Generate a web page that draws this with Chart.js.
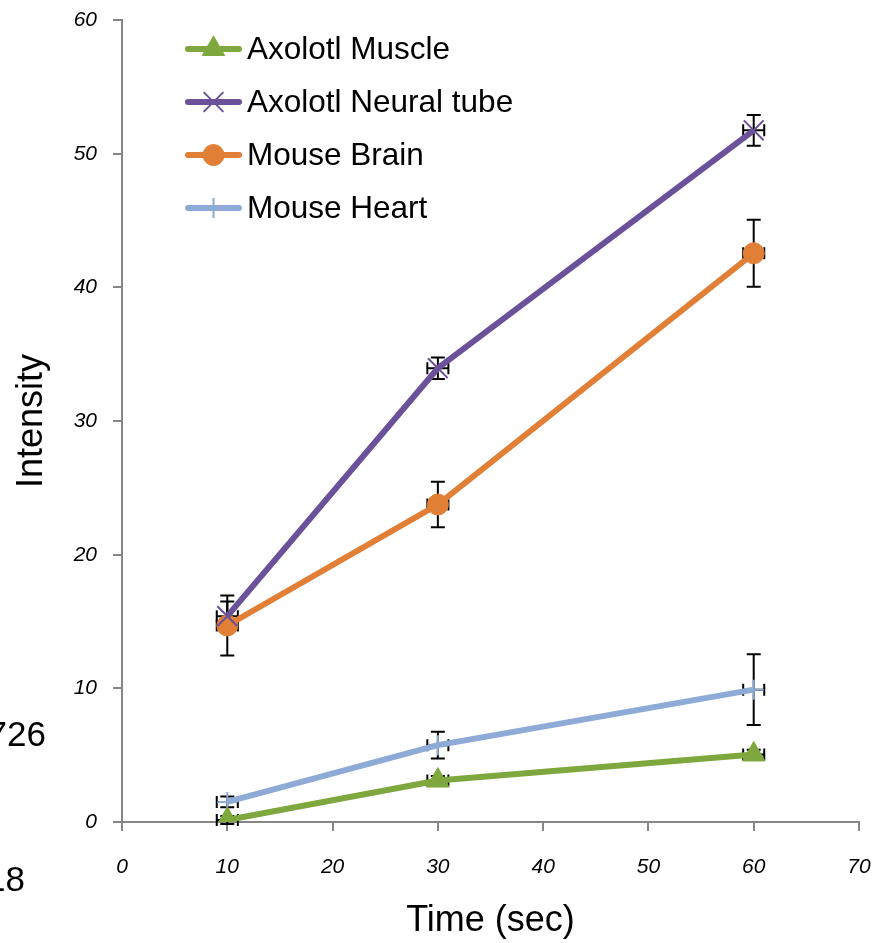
<!DOCTYPE html>
<html>
<head>
<meta charset="utf-8">
<script src="https://cdn.jsdelivr.net/npm/chart.js@4"></script>
<style>
  body { margin: 0; background: #fff; }
  #wrap { position: relative; width: 877px; height: 943px; overflow: hidden; }
  .stray { position: absolute; font-family: "Liberation Sans", Arial, sans-serif; font-size: 35px; color: #000; text-align: right; line-height: 40px; }
</style>
</head>
<body>
<div id="wrap">
  <canvas id="myChart" width="877" height="943"></canvas>
  <div class="stray" style="right: 831px; top: 714px;">726</div>
  <div class="stray" style="right: 852px; top: 859px;">18</div>
</div>
<script>
var times = [10, 30, 60];
var seriesNames = ['Axolotl Muscle', 'Axolotl Neural tube', 'Mouse Brain', 'Mouse Heart'];
var muscle = [0.15, 3.1, 5.05];
var muscleErr = [0.3, 0.35, 0.35];
var neural = [15.4, 33.95, 51.75];
var neuralErr = [1.1, 0.8, 1.15];
var brain = [14.7, 23.75, 42.55];
var brainErr = [2.25, 1.7, 2.5];
var heart = [1.5, 5.75, 9.9];
var heartErr = [0.4, 1.0, 2.65];
var timeErr = [1, 1, 1];
var xTicks = [0, 10, 20, 30, 40, 50, 60, 70];
var yTicks = [0, 10, 20, 30, 40, 50, 60];

var colors = ['#7ea83d', '#6b5199', '#e07f35', '#8eaad6'];
var pointStyles = ['triangle', 'crossRot', 'circle', 'cross'];
var pointSizes = [13, 14, 10.5, 10];
var allValues = [muscle, neural, brain, heart];
var allErrs = [muscleErr, neuralErr, brainErr, heartErr];

function points(vals) {
    var out = [];
    for (let i = 0; i < times.length; i++) {
        out.push({ x: times[i], y: vals[i] });
    }
    return out;
}

var datasets = [];
for (let s = 0; s < seriesNames.length; s++) {
    datasets.push({
        label: seriesNames[s],
        data: points(allValues[s]),
        yErr: allErrs[s],
        xErr: timeErr,
        borderColor: colors[s],
        backgroundColor: colors[s],
        borderWidth: 6,
        showLine: true,
        tension: 0,
        pointStyle: pointStyles[s],
        pointRadius: pointSizes[s],
        pointBorderWidth: (s == 1 || s == 3) ? 2 : 1,
        pointBackgroundColor: colors[s],
        pointBorderColor: colors[s]
    });
}

// error bars in both directions, drawn through the chart scales, under the markers
var errorBars = {
    id: 'errorBars',
    beforeDatasetsDraw(chart) {
        let ctx = chart.ctx;
        let xs = chart.scales.x, ys = chart.scales.y;
        let cap = 7;
        ctx.save();
        ctx.strokeStyle = '#000';
        ctx.lineWidth = 2;
        chart.data.datasets.forEach(function (ds) {
            ds.data.forEach(function (p, i) {
                let px = xs.getPixelForValue(p.x);
                let py = ys.getPixelForValue(p.y);
                let yt = ys.getPixelForValue(p.y + ds.yErr[i]);
                let yb = ys.getPixelForValue(p.y - ds.yErr[i]);
                let xl = xs.getPixelForValue(p.x - ds.xErr[i]);
                let xr = xs.getPixelForValue(p.x + ds.xErr[i]);
                ctx.beginPath();
                ctx.moveTo(px, yt); ctx.lineTo(px, yb);
                ctx.moveTo(px - cap, yt); ctx.lineTo(px + cap, yt);
                ctx.moveTo(px - cap, yb); ctx.lineTo(px + cap, yb);
                ctx.moveTo(xl, py); ctx.lineTo(xr, py);
                ctx.moveTo(xl, py - 6); ctx.lineTo(xl, py + 6);
                ctx.moveTo(xr, py - 6); ctx.lineTo(xr, py + 6);
                ctx.stroke();
            });
        });
        ctx.restore();
    }
};

// legend inside the plot, line sample with marker
var insideLegend = {
    id: 'insideLegend',
    afterDraw(chart) {
        let ctx = chart.ctx;
        let x0 = 188, x1 = 239, top = 49, gap = 53;
        ctx.save();
        chart.data.datasets.forEach(function (ds, i) {
            let y = top + i * gap;
            ctx.strokeStyle = ds.borderColor;
            ctx.lineWidth = 6;
            ctx.lineCap = 'round';
            ctx.beginPath();
            ctx.moveTo(x0, y); ctx.lineTo(x1, y);
            ctx.stroke();
            ctx.lineCap = 'butt';
            ctx.fillStyle = ds.backgroundColor;
            ctx.lineWidth = ds.pointBorderWidth;
            Chart.helpers.drawPoint(ctx, {
                pointStyle: ds.pointStyle,
                radius: ds.pointRadius,
                rotation: 0,
                borderWidth: ds.pointBorderWidth
            }, (x0 + x1) / 2, y);
            ctx.fillStyle = '#000';
            ctx.font = '31.5px "Liberation Sans", Arial, sans-serif';
            ctx.textBaseline = 'middle';
            ctx.fillText(ds.label, 247, y + 1);
        });
        ctx.restore();
    }
};

var tickFont = { family: '"Liberation Sans", Arial, sans-serif', size: 21, style: 'italic' };
var titleFont = { family: '"Liberation Sans", Arial, sans-serif', size: 36 };

var chart = new Chart(document.getElementById('myChart'), {
    type: 'scatter',
    data: { datasets: datasets },
    plugins: [errorBars, insideLegend],
    options: {
        responsive: false,
        animation: false,
        layout: { padding: { top: 20, right: 18, left: 0, bottom: 0 } },
        scales: {
            x: {
                type: 'linear',
                min: 0,
                max: 70,
                afterBuildTicks: function (scale) {
                    scale.ticks = xTicks.map(function (v) { return { value: v }; });
                },
                afterFit: function (scale) {
                    scale.height = 121;
                    scale.paddingLeft = 0; scale.paddingRight = 0;
                    scale.paddingTop = 0; scale.paddingBottom = 0;
                },
                border: { display: true, color: '#868686', width: 2 },
                grid: { drawOnChartArea: false, drawTicks: true, tickLength: 9, color: '#868686', lineWidth: 2 },
                ticks: { color: '#000', font: tickFont, padding: 24, maxRotation: 0 },
                title: { display: true, text: 'Time (sec)', color: '#000', font: titleFont, padding: { top: 0, bottom: 0 } }
            },
            y: {
                type: 'linear',
                min: 0,
                max: 60,
                afterBuildTicks: function (scale) {
                    scale.ticks = yTicks.map(function (v) { return { value: v }; });
                },
                afterFit: function (scale) {
                    scale.width = 122;
                    scale.paddingLeft = 0; scale.paddingRight = 0;
                    scale.paddingTop = 0; scale.paddingBottom = 0;
                },
                border: { display: true, color: '#868686', width: 2 },
                grid: { drawOnChartArea: false, drawTicks: true, tickLength: 9, color: '#868686', lineWidth: 2 },
                ticks: { color: '#000', font: tickFont, padding: 16 },
                title: { display: true, text: 'Intensity', color: '#000', font: titleFont, padding: { top: 10, bottom: 0 } }
            }
        },
        plugins: {
            legend: { display: false },
            tooltip: { enabled: false }
        }
    }
});
</script>
</body>
</html>
